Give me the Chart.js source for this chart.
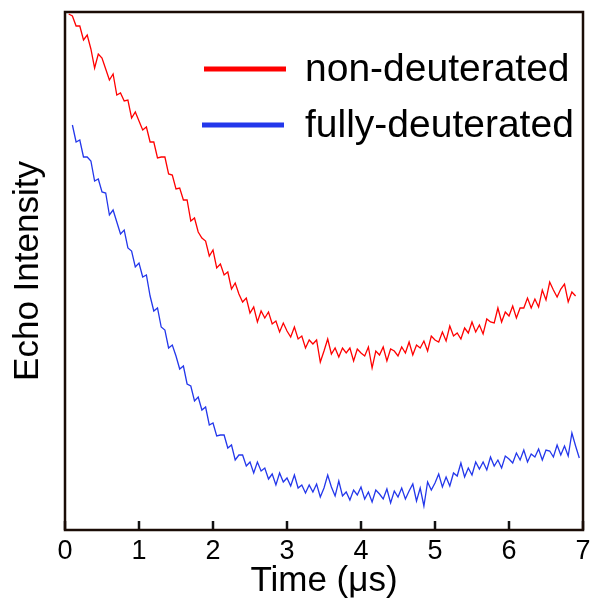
<!DOCTYPE html>
<html>
<head>
<meta charset="utf-8">
<script src="https://cdn.jsdelivr.net/npm/chart.js@4/dist/chart.umd.min.js"></script>
<style>
  body { margin: 0; background: #fff; }
  #wrap { width: 600px; height: 602px; position: relative; }
</style>
</head>
<body>
<div id="wrap"><canvas id="echo"></canvas></div>
<script>
// === DONNEES ===
const timeUs = [
  0.05,0.1,0.15,0.2,0.25,0.3,0.35,0.4,0.45,0.5,0.55,0.6,0.65,0.7,0.75,0.8,0.85,0.9,0.95,1.0,
  1.05,1.1,1.15,1.2,1.25,1.3,1.35,1.4,1.45,1.5,1.55,1.6,1.65,1.7,1.75,1.8,1.85,1.9,1.95,2.0,
  2.05,2.1,2.15,2.2,2.25,2.3,2.35,2.4,2.45,2.5,2.55,2.6,2.65,2.7,2.75,2.8,2.85,2.9,2.95,3.0,
  3.05,3.1,3.15,3.2,3.25,3.3,3.35,3.4,3.45,3.5,3.55,3.6,3.65,3.7,3.75,3.8,3.85,3.9,3.95,4.0,
  4.05,4.1,4.15,4.2,4.25,4.3,4.35,4.4,4.45,4.5,4.55,4.6,4.65,4.7,4.75,4.8,4.85,4.9,4.95,5.0,
  5.05,5.1,5.15,5.2,5.25,5.3,5.35,5.4,5.45,5.5,5.55,5.6,5.65,5.7,5.75,5.8,5.85,5.9,5.95,6.0,
  6.05,6.1,6.15,6.2,6.25,6.3,6.35,6.4,6.45,6.5,6.55,6.6,6.65,6.7,6.75,6.8,6.85,6.9,6.95
];

// non-deutéré (rouge), unités arbitraires
const nonDeuterated = [
  516,514,504,504,490,495,481,462,476,472,
  461,450,456,435,437,429,430,412,418,409,
  400,403,388,388,372,373,373,356,355,341,
  342,330,330,309,312,298,292,289,274,280,
  262,266,255,258,241,247,236,228,232,217,
  223,208,219,212,218,206,209,198,207,199,
  193,203,191,194,182,190,186,190,168,179,
  191,176,182,173,182,177,182,169,181,177,
  174,183,162,179,175,183,169,181,179,174,
  183,177,188,175,185,182,189,179,194,190,
  188,198,189,204,194,197,191,202,197,208,
  198,205,196,211,208,207,222,208,218,214,
  224,212,222,222,232,222,231,223,240,230,
  248,240,233,241,246,228,238,234,null
];

// totalement deutéré (bleu)
const fullyDeuterated = [
  null,
  405,388,390,373,373,369,349,351,338,337,
  315,320,308,296,300,282,279,263,267,253,
  255,234,219,222,203,200,182,185,174,161,
  164,146,144,129,133,120,123,105,107,94,
  95,95,82,85,70,75,75,64,68,57,
  68,59,62,51,56,45,57,48,52,44,
  55,42,45,37,45,38,46,33,42,55,
  43,34,49,34,38,30,40,35,43,31,
  38,28,40,36,31,41,27,39,33,42,
  31,39,46,29,42,24,48,40,47,56,
  43,53,44,57,54,67,53,62,55,68,
  61,68,60,73,64,70,62,74,71,67,
  77,70,80,68,76,73,81,70,80,79,
  73,85,75,84,74,97,84,72
];

const xTicks = [0, 1, 2, 3, 4, 5, 6, 7];
const legendLabels = ["non-deuterated", "fully-deuterated"];
const RED = "#ff0000";
const BLUE = "rgb(35,55,235)";
const FONT = "'Liberation Sans', Arial, Helvetica, sans-serif";

function toPoints(vals) {
  const pts = [];
  vals.forEach((v, i) => { if (v !== null) pts.push({ x: timeUs[i], y: v }); });
  return pts;
}

// === CADRE + TICKS INTERIEURS + LEGENDE ===
const framePlugin = {
  id: "frame",
  afterDatasetsDraw(chart) {
    const { ctx, chartArea: a, scales } = chart;
    ctx.save();
    // ticks vers l'interieur
    ctx.strokeStyle = "#111";
    ctx.lineWidth = 2.5;
    xTicks.forEach(t => {
      const px = scales.x.getPixelForValue(t);
      ctx.beginPath();
      ctx.moveTo(px, a.bottom);
      ctx.lineTo(px, a.bottom - 9);
      ctx.stroke();
    });
    // cadre
    ctx.lineWidth = 2.5;
    ctx.strokeStyle = "#1a0c06";
    ctx.strokeRect(a.left, a.top, a.right - a.left, a.bottom - a.top);

    // legende
    const colors = [RED, BLUE];
    const rows = [a.top + 57, a.top + 113];
    ctx.font = "39px " + FONT;
    ctx.textBaseline = "middle";
    ctx.fillStyle = "#000";
    legendLabels.forEach((lab, i) => {
      ctx.strokeStyle = colors[i];
      ctx.lineWidth = 5;
      ctx.beginPath();
      ctx.moveTo(a.left + 139 - (i ? 2 : 0), rows[i]);
      ctx.lineTo(a.left + 221 - (i ? 2 : 0), rows[i]);
      ctx.stroke();
      ctx.fillText(lab, a.left + 240, rows[i] + 1);
    });
    ctx.restore();
  }
};

new Chart(document.getElementById("echo"), {
  type: "line",
  data: {
    datasets: [
      {
        label: legendLabels[0],
        data: toPoints(nonDeuterated),
        borderColor: RED,
        borderWidth: 1.3,
        pointRadius: 0,
        tension: 0
      },
      {
        label: legendLabels[1],
        data: toPoints(fullyDeuterated),
        borderColor: BLUE,
        borderWidth: 1.3,
        pointRadius: 0,
        tension: 0
      }
    ]
  },
  options: {
    responsive: true,
    maintainAspectRatio: false,
    animation: false,
    layout: { padding: { top: 12, right: 17, left: 0, bottom: 0 } },
    plugins: { legend: { display: false }, tooltip: { enabled: false } },
    scales: {
      x: {
        type: "linear",
        min: 0,
        max: 7,
        afterFit: s => { s.height = 72; },
        afterBuildTicks: s => { s.ticks = xTicks.map(v => ({ value: v })); },
        grid: { display: false, drawTicks: false },
        border: { display: false },
        ticks: { color: "#000", padding: 5, font: { size: 27, family: FONT } },
        title: {
          display: true,
          text: "Time (μs)",
          color: "#000",
          padding: 0,
          font: { size: 35, family: FONT }
        }
      },
      y: {
        min: 0,
        max: 518,
        afterFit: s => { s.width = 65; },
        grid: { display: false, drawTicks: false },
        border: { display: false },
        ticks: { display: false },
        title: {
          display: true,
          text: "Echo Intensity",
          color: "#000",
          padding: { top: 7, bottom: 0 },
          font: { size: 35, family: FONT }
        }
      }
    }
  },
  plugins: [framePlugin]
});
</script>
</body>
</html>
